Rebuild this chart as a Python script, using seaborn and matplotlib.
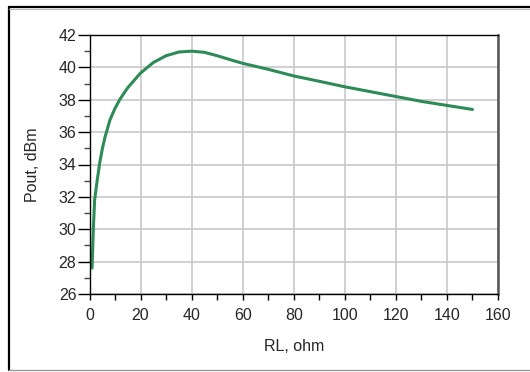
import numpy as np
import pandas as pd
import seaborn as sns
import matplotlib.pyplot as plt
from matplotlib.ticker import MultipleLocator
from matplotlib.lines import Line2D

# data
rl_ohm = [1, 1.5, 2, 3, 4, 5, 6, 8, 10, 12, 15, 20, 25, 30, 35, 40, 45,
          50, 55, 60, 70, 80, 90, 100, 110, 120, 130, 140, 150]
pout_dbm = [27.6, 30.0, 31.8, 33.0, 34.1, 34.95, 35.65, 36.75, 37.47, 38.05,
            38.75, 39.65, 40.3, 40.72, 40.95, 41.0, 40.93, 40.72, 40.48,
            40.25, 39.88, 39.47, 39.14, 38.8, 38.5, 38.2, 37.9, 37.65, 37.4]

df = pd.DataFrame({"RL": rl_ohm, "Pout": pout_dbm})

sns.set_style("white")
plt.rcParams["font.family"] = ["Liberation Sans", "DejaVu Sans"]

W, H = 530, 372
fig = plt.figure(figsize=(W / 100, H / 100), dpi=100)
ax = fig.add_axes([89.5 / W, 1 - 294 / H, 408.5 / W, 259 / H])

sns.lineplot(data=df, x="RL", y="Pout", ax=ax, color="#2e8b57", lw=2.2)

ax.set_xlim(0, 160)
ax.set_ylim(26, 42)
ax.xaxis.set_major_locator(MultipleLocator(20))
ax.xaxis.set_minor_locator(MultipleLocator(10))
ax.yaxis.set_major_locator(MultipleLocator(2))
ax.yaxis.set_minor_locator(MultipleLocator(1))
ax.grid(True, which="major", color="#c8c8c8", lw=1.2)
ax.set_axisbelow(True)

ax.tick_params(axis="x", which="both", direction="out", length=4.5, width=1,
               color="black", labelsize=11.5, pad=5.5, bottom=True)
ax.tick_params(axis="y", which="major", direction="out", length=8.6, width=1,
               color="black", labelsize=11.5, pad=0.8, left=True)
ax.tick_params(axis="y", which="minor", direction="out", length=4.3, width=1,
               color="#444444", left=True)

for side in ["left", "bottom", "top"]:
    ax.spines[side].set_color("black")
    ax.spines[side].set_linewidth(1.0)
ax.spines["right"].set_color("#555555")
ax.spines["right"].set_linewidth(1.8)

ax.set_xlabel("RL, ohm", fontsize=11.5)
ax.set_ylabel("Pout, dBm", fontsize=11.5)
ax.xaxis.set_label_coords(0.5, -0.172)
ax.yaxis.set_label_coords(-0.12, 0.5)

# outer frame
def px(x, y):
    return x / W, 1 - y / H

fig.add_artist(Line2D(*zip(px(9, 7), px(530, 7)), color="black", lw=1.6))
fig.add_artist(Line2D(*zip(px(8.5, 7), px(8.5, 370)), color="black", lw=1.6))
fig.add_artist(Line2D(*zip(px(9, 8.8), px(530, 8.8)), color="#bbbbbb", lw=0.8))
fig.add_artist(Line2D(*zip(px(8.5, 369.5), px(530, 369.5)), color="#999999", lw=1.0))

fig.savefig("out.png", dpi=100)
